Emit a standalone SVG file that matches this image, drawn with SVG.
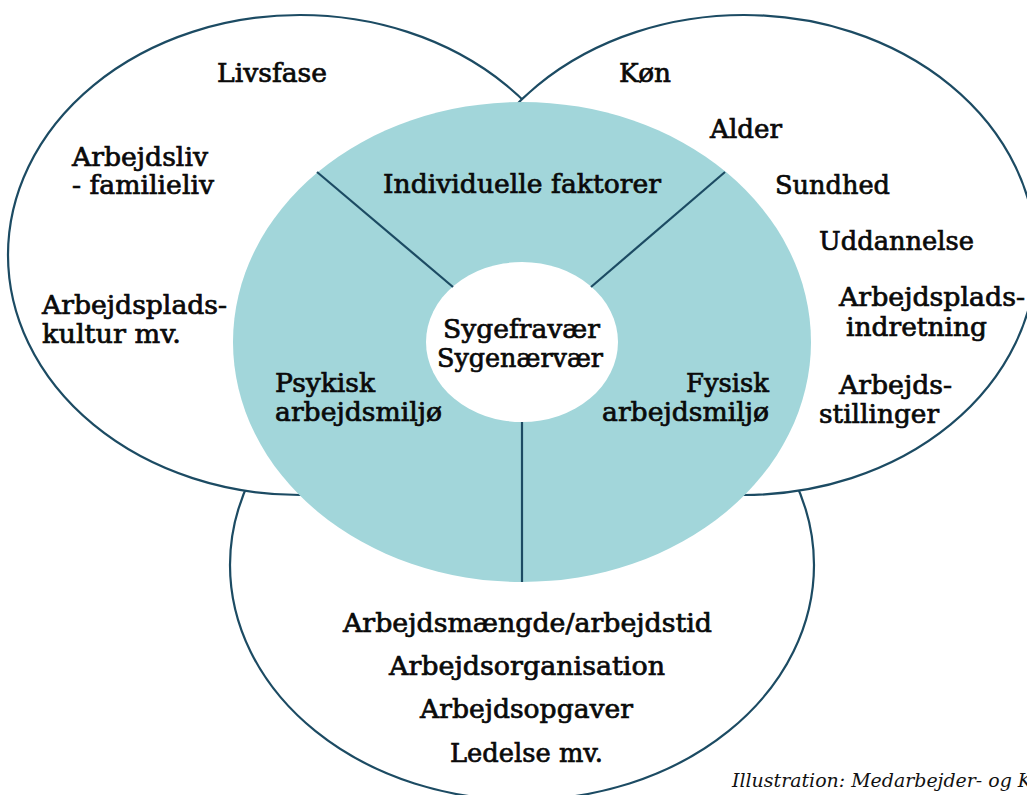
<svg xmlns="http://www.w3.org/2000/svg" width="1027" height="795" viewBox="0 0 1027 795">
<style>
.ring{fill:#ffffff;stroke:#1c4b63;stroke-width:2.2}
.teal{fill:#a2d6da}
.core{fill:#ffffff}
.div{stroke:#1c4b63;stroke-width:2.2;fill:none}
.t{font-family:"DejaVu Serif","Liberation Serif",serif;font-size:26px;fill:#0a0a0a;stroke:#0a0a0a;stroke-width:0.7px}
.note{font-family:"DejaVu Serif","Liberation Serif",serif;font-style:italic;font-size:18px;fill:#111}
</style>
<rect width="1027" height="795" fill="#ffffff"/>
<g id="ellipse-bottom">
<ellipse class="ring" cx="522" cy="565" rx="292" ry="235"/>
</g>
<g id="ellipse-left">
<ellipse class="ring" cx="300" cy="255" rx="292" ry="240"/>
</g>
<g id="ellipse-right">
<ellipse class="ring" cx="744" cy="255" rx="292" ry="240"/>
</g>
<g id="center-ring">
<ellipse class="teal" cx="522" cy="342" rx="289" ry="240"/>
</g>
<g id="core">
<ellipse class="core" cx="522" cy="342" rx="96" ry="80"/>
</g>
<g id="connectors">
<line class="div" x1="317" y1="172" x2="453" y2="287"/>
<line class="div" x1="725" y1="172" x2="591" y2="287"/>
<line class="div" x1="522" y1="422" x2="522" y2="582"/>
</g>
<g id="labels-left">
<text class="t" x="217" y="82" textLength="110" lengthAdjust="spacingAndGlyphs">Livsfase</text>
<text class="t" x="72" y="166" textLength="136" lengthAdjust="spacingAndGlyphs">Arbejdsliv</text>
<text class="t" x="72" y="194" textLength="142" lengthAdjust="spacingAndGlyphs">- familieliv</text>
<text class="t" x="42" y="314" textLength="185" lengthAdjust="spacingAndGlyphs">Arbejdsplads-</text>
<text class="t" x="42" y="343" textLength="139" lengthAdjust="spacingAndGlyphs">kultur mv.</text>
</g>
<g id="labels-ring">
<text class="t" x="383" y="193" textLength="278" lengthAdjust="spacingAndGlyphs">Individuelle faktorer</text>
<text class="t" x="275" y="392" textLength="100" lengthAdjust="spacingAndGlyphs">Psykisk</text>
<text class="t" x="275" y="421" textLength="167" lengthAdjust="spacingAndGlyphs">arbejdsmiljø</text>
<text class="t" x="686" y="392" textLength="83" lengthAdjust="spacingAndGlyphs">Fysisk</text>
<text class="t" x="602" y="421" textLength="167" lengthAdjust="spacingAndGlyphs">arbejdsmiljø</text>
</g>
<g id="labels-core">
<text class="t" x="443" y="338" textLength="157" lengthAdjust="spacingAndGlyphs">Sygefravær</text>
<text class="t" x="437" y="367" textLength="166" lengthAdjust="spacingAndGlyphs">Sygenærvær</text>
</g>
<g id="labels-right">
<text class="t" x="619" y="82" textLength="52" lengthAdjust="spacingAndGlyphs">Køn</text>
<text class="t" x="710" y="138" textLength="72" lengthAdjust="spacingAndGlyphs">Alder</text>
<text class="t" x="775" y="194" textLength="115" lengthAdjust="spacingAndGlyphs">Sundhed</text>
<text class="t" x="819" y="250" textLength="155" lengthAdjust="spacingAndGlyphs">Uddannelse</text>
<text class="t" x="839" y="306" textLength="186" lengthAdjust="spacingAndGlyphs">Arbejdsplads-</text>
<text class="t" x="846" y="336" textLength="141" lengthAdjust="spacingAndGlyphs">indretning</text>
<text class="t" x="839" y="394" textLength="113" lengthAdjust="spacingAndGlyphs">Arbejds-</text>
<text class="t" x="819" y="423" textLength="120" lengthAdjust="spacingAndGlyphs">stillinger</text>
</g>
<g id="labels-bottom">
<text class="t" x="343" y="632" textLength="369" lengthAdjust="spacingAndGlyphs">Arbejdsmængde/arbejdstid</text>
<text class="t" x="389" y="675" textLength="276" lengthAdjust="spacingAndGlyphs">Arbejdsorganisation</text>
<text class="t" x="420" y="718" textLength="213" lengthAdjust="spacingAndGlyphs">Arbejdsopgaver</text>
<text class="t" x="450" y="762" textLength="153" lengthAdjust="spacingAndGlyphs">Ledelse mv.</text>
</g>
<g id="credit">
<text class="note" x="732" y="787" textLength="300" lengthAdjust="spacingAndGlyphs">Illustration: Medarbejder- og K</text>
</g>
</svg>
